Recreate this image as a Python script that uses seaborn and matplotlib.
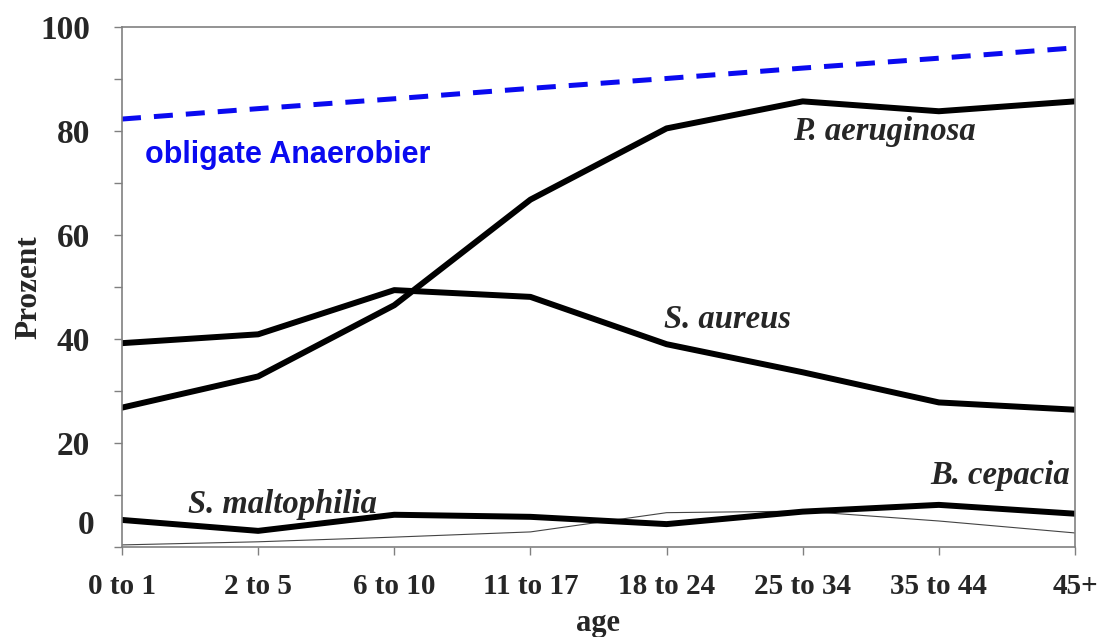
import pandas as pd
import matplotlib
matplotlib.use("Agg")
import matplotlib.pyplot as plt
import seaborn as sns

# data
ages = ["0 to 1", "2 to 5", "6 to 10", "11 to 17", "18 to 24", "25 to 34", "35 to 44", "45+"]
p_aeruginosa = [26.8, 32.8, 46.5, 66.8, 80.5, 85.7, 83.8, 85.7]
s_aureus = [39.2, 40.9, 49.4, 48.1, 39.0, 33.6, 27.8, 26.4]
s_maltophilia = [5.2, 3.1, 6.2, 5.8, 4.4, 6.8, 8.1, 6.4]
b_cepacia = [0.4, 1.0, 1.9, 2.9, 6.6, 6.9, 5.0, 2.7]
anaerobier = [82.3, 84.3, 86.2, 88.2, 90.1, 92.1, 94.0, 96.0]

df = pd.DataFrame({
    "age": ages,
    "P. aeruginosa": p_aeruginosa,
    "S. aureus": s_aureus,
    "S. maltophilia": s_maltophilia,
    "B. cepacia": b_cepacia,
    "obligate Anaerobier": anaerobier,
})

sns.set_style("white")
plt.rcParams["font.family"] = ["Liberation Serif", "DejaVu Serif"]

fig = plt.figure(figsize=(11.07, 6.37), dpi=100)
ax = fig.add_axes([0.1102, 0.1413, 0.8609, 0.8163])

# =========================
# LINES
# =========================
sns.lineplot(data=df, x="age", y="B. cepacia", ax=ax, color="#444444", linewidth=0.8, sort=False)
sns.lineplot(data=df, x="age", y="S. maltophilia", ax=ax, color="black", linewidth=4.3, sort=False)
sns.lineplot(data=df, x="age", y="S. aureus", ax=ax, color="black", linewidth=4.3, sort=False)
sns.lineplot(data=df, x="age", y="P. aeruginosa", ax=ax, color="black", linewidth=4.3, sort=False)
sns.lineplot(data=df, x="age", y="obligate Anaerobier", ax=ax, color="#0a0af0",
             linewidth=3.6, linestyle=(0, (3.8, 2.6)), sort=False)

# =========================
# AXES
# =========================
ax.set_xlim(0, 7)
ax.set_ylim(0, 100)
ax.set_yticks(range(0, 101, 10))
ax.set_yticklabels(["" if v % 20 or v == 0 else str(v) for v in range(0, 101, 10)])
ax.text(-0.029, 4.2, "0", transform=ax.get_yaxis_transform(), ha="right", va="center",
        fontsize=24, fontweight="bold")

for s in ax.spines.values():
    s.set_color("#808080")
    s.set_linewidth(1.2)
ax.tick_params(axis="both", direction="out", length=6, width=1, color="#808080",
               left=True, bottom=True)
ax.tick_params(axis="y", pad=17, labelsize=24)
ax.tick_params(axis="x", pad=13, labelsize=21)
for lab in ax.get_xticklabels() + ax.get_yticklabels():
    lab.set_fontweight("bold")

ax.set_xlabel("age", fontsize=22, fontweight="bold", labelpad=6)
ax.set_ylabel("Prozent", fontsize=22.5, fontweight="bold", labelpad=-2)

# =========================
# LABELS ON LINES
# =========================
lab_style = dict(fontsize=23.5, fontweight="bold", fontstyle="italic", ha="center", va="center")
ax.text(5.6, 79.9, "P. aeruginosa", **lab_style)
ax.text(4.45, 43.8, "S. aureus", **lab_style)
ax.text(1.18, 8.1, "S. maltophilia", **lab_style)
ax.text(6.45, 13.7, "B. cepacia", **lab_style)
ax.text(0.17, 75.4, "obligate Anaerobier", color="#0a0af0", fontsize=22,
        fontweight="bold", family=["Liberation Sans", "DejaVu Sans"], ha="left", va="center")

plt.savefig("out.png", dpi=100)
